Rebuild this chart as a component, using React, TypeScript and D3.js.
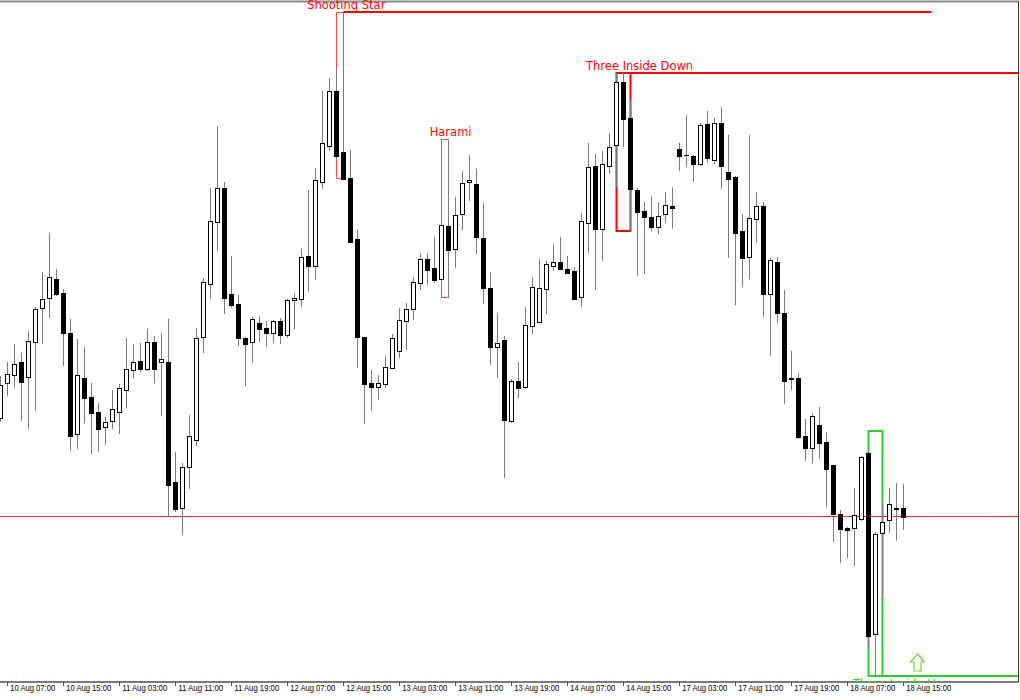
import React from 'react';
import * as d3 from 'd3';

// hourly OHLC, oldest first (first bar is cut by the left edge)
const opens = [
  1.3282, 1.3317, 1.3325, 1.3338, 1.3323, 1.3358, 1.3392, 1.3402, 1.3421, 1.3407,
  1.3367, 1.3266, 1.3322, 1.3303, 1.3288, 1.3273, 1.3279, 1.3288, 1.3310, 1.3330,
  1.3339, 1.3331, 1.3358, 1.3338, 1.3338, 1.3218, 1.3192, 1.3233, 1.3260, 1.3363,
  1.3416, 1.3478, 1.3512, 1.3406, 1.3396, 1.3362, 1.3358, 1.3377, 1.3372, 1.3367,
  1.3379, 1.3365, 1.3400, 1.3401, 1.3444, 1.3434, 1.3518, 1.3554, 1.3609, 1.3548,
  1.3522, 1.3461, 1.3363, 1.3317, 1.3313, 1.3316, 1.3332, 1.3349, 1.3379, 1.3391,
  1.3417, 1.3441, 1.3432, 1.3421, 1.3474, 1.3451, 1.3486, 1.3518, 1.3516, 1.3462,
  1.3412, 1.3353, 1.3360, 1.3279, 1.3319, 1.3313, 1.3374, 1.3378, 1.3411, 1.3434,
  1.3438, 1.3431, 1.3429, 1.3403, 1.3477, 1.3534, 1.3471, 1.3534, 1.3555, 1.3618,
  1.3582, 1.3510, 1.3489, 1.3483, 1.3473, 1.3486, 1.3494, 1.3551, 1.3545, 1.3544,
  1.3536, 1.3576, 1.3540, 1.3577, 1.3528, 1.3523, 1.3469, 1.3443, 1.3481, 1.3494,
  1.3406, 1.3438, 1.3387, 1.3322, 1.3322, 1.3264, 1.3252, 1.3275, 1.3258, 1.3235,
  1.3186, 1.3172, 1.3172, 1.3181, 1.3247, 1.3066, 1.3167, 1.3180, 1.3192, 1.3192,
];

const highs = [
  1.3324, 1.3338, 1.3356, 1.3347, 1.3369, 1.3393, 1.3428, 1.3467, 1.3431, 1.3411,
  1.3381, 1.3361, 1.3353, 1.3317, 1.3297, 1.3283, 1.3310, 1.3316, 1.3362, 1.3356,
  1.3357, 1.3371, 1.3364, 1.3367, 1.3381, 1.3248, 1.3237, 1.3285, 1.3372, 1.3422,
  1.3512, 1.3574, 1.3518, 1.3444, 1.3405, 1.3363, 1.3383, 1.3384, 1.3379, 1.3380,
  1.3382, 1.3401, 1.3407, 1.3451, 1.3510, 1.3532, 1.3609, 1.3622, 1.3632, 1.3688,
  1.3550, 1.3470, 1.3363, 1.3330, 1.3325, 1.3344, 1.3366, 1.3392, 1.3397, 1.3423,
  1.3447, 1.3447, 1.3463, 1.3482, 1.3561, 1.3503, 1.3529, 1.3545, 1.3531, 1.3497,
  1.3428, 1.3387, 1.3364, 1.3321, 1.3338, 1.3393, 1.3423, 1.3441, 1.3439, 1.3456,
  1.3463, 1.3444, 1.3433, 1.3487, 1.3557, 1.3546, 1.3549, 1.3567, 1.3627, 1.3627,
  1.3600, 1.3512, 1.3498, 1.3504, 1.3498, 1.3508, 1.3513, 1.3557, 1.3585, 1.3545,
  1.3577, 1.3589, 1.3582, 1.3593, 1.3565, 1.3524, 1.3486, 1.3565, 1.3508, 1.3498,
  1.3442, 1.3443, 1.3410, 1.3349, 1.3327, 1.3281, 1.3287, 1.3293, 1.3268, 1.3235,
  1.3190, 1.3173, 1.3212, 1.3244, 1.3248, 1.3168, 1.3197, 1.3212, 1.3217, 1.3216,
];

const lows = [
  1.3279, 1.3305, 1.3313, 1.3280, 1.3272, 1.3290, 1.3357, 1.3383, 1.3405, 1.3335,
  1.3250, 1.3252, 1.3278, 1.3247, 1.3249, 1.3256, 1.3272, 1.3267, 1.3293, 1.3323,
  1.3329, 1.3330, 1.3318, 1.3285, 1.3184, 1.3189, 1.3166, 1.3212, 1.3255, 1.3348,
  1.3402, 1.3450, 1.3387, 1.3393, 1.3355, 1.3315, 1.3338, 1.3359, 1.3354, 1.3358,
  1.3357, 1.3363, 1.3372, 1.3394, 1.3409, 1.3421, 1.3512, 1.3550, 1.3542, 1.3521,
  1.3458, 1.3333, 1.3277, 1.3290, 1.3301, 1.3313, 1.3332, 1.3343, 1.3351, 1.3381,
  1.3411, 1.3416, 1.3418, 1.3421, 1.3403, 1.3433, 1.3471, 1.3500, 1.3447, 1.3397,
  1.3336, 1.3323, 1.3223, 1.3278, 1.3303, 1.3312, 1.3367, 1.3378, 1.3387, 1.3431,
  1.3431, 1.3427, 1.3401, 1.3394, 1.3448, 1.3411, 1.3440, 1.3527, 1.3514, 1.3554,
  1.3469, 1.3425, 1.3427, 1.3470, 1.3467, 1.3478, 1.3472, 1.3530, 1.3534, 1.3519,
  1.3535, 1.3538, 1.3537, 1.3512, 1.3443, 1.3396, 1.3414, 1.3422, 1.3458, 1.3384,
  1.3345, 1.3378, 1.3297, 1.3311, 1.3262, 1.3240, 1.3238, 1.3242, 1.3194, 1.3159,
  1.3138, 1.3143, 1.3135, 1.3180, 1.3053, 1.3024, 1.3103, 1.3168, 1.3160, 1.3171,
];

const closes = [
  1.3315, 1.3326, 1.3336, 1.3318, 1.3359, 1.3391, 1.3401, 1.3423, 1.3406, 1.3367,
  1.3264, 1.3325, 1.3302, 1.3287, 1.3271, 1.3278, 1.3291, 1.3312, 1.3331, 1.3338,
  1.3331, 1.3358, 1.3331, 1.3341, 1.3215, 1.3191, 1.3233, 1.3264, 1.3362, 1.3418,
  1.3479, 1.3512, 1.3402, 1.3395, 1.3362, 1.3356, 1.3381, 1.3371, 1.3367, 1.3379,
  1.3365, 1.3400, 1.3402, 1.3443, 1.3434, 1.3520, 1.3557, 1.3609, 1.3544, 1.3521,
  1.3458, 1.3363, 1.3316, 1.3313, 1.3317, 1.3333, 1.3362, 1.3380, 1.3391, 1.3418,
  1.3441, 1.3430, 1.3420, 1.3475, 1.3450, 1.3485, 1.3517, 1.3520, 1.3463, 1.3412,
  1.3353, 1.3357, 1.3280, 1.3319, 1.3312, 1.3375, 1.3413, 1.3412, 1.3436, 1.3438,
  1.3431, 1.3427, 1.3401, 1.3479, 1.3533, 1.3471, 1.3536, 1.3553, 1.3618, 1.3581,
  1.3511, 1.3488, 1.3483, 1.3473, 1.3484, 1.3495, 1.3492, 1.3544, 1.3545, 1.3536,
  1.3575, 1.3542, 1.3577, 1.3534, 1.3521, 1.3467, 1.3442, 1.3482, 1.3494, 1.3406,
  1.3440, 1.3387, 1.3319, 1.3321, 1.3263, 1.3252, 1.3284, 1.3257, 1.3231, 1.3186,
  1.3171, 1.3170, 1.3185, 1.3243, 1.3064, 1.3166, 1.3178, 1.3196, 1.3191, 1.3183,
];

// time axis: a label every 8 bars, starting at bar 1
const timeLabels = [
  '10 Aug 07:00', '10 Aug 15:00', '11 Aug 03:00', '11 Aug 11:00', '11 Aug 19:00',
  '12 Aug 07:00', '12 Aug 15:00', '13 Aug 03:00', '13 Aug 11:00', '13 Aug 19:00',
  '14 Aug 07:00', '14 Aug 15:00', '17 Aug 03:00', '17 Aug 11:00', '17 Aug 19:00',
  '18 Aug 07:00', '18 Aug 15:00',
];

const supportLevel = 1.3184;

const patternNames = ['Shooting Star', 'Harami', 'Three Inside Down', 'Three Inside Up'];
const patternFrom = [48, 63, 88, 124];
const patternTo = [49, 64, 90, 126];
const patternHigh = [1.3688, 1.3561, 1.3627, 1.3269];
const patternLow = [1.3522, 1.3403, 1.3469, 1.3024];
const patternBullish = [false, false, false, true];
// bar index the label is centred on, and where the level line ends (-1 none, 0 chart edge)
const patternLabelAt = [49.4, 64.3, 91.3, 128.2];
const patternLineTo = [133, -1, 0, 0];

const arrowBar = 131;
const arrowPrice = 1.3046;

const W = 1020;
const H = 700;
const plot = { left: 0, right: 1019, top: 1, bottom: 681 };

const RED = '#ff0000';
const GREEN = '#33cc33';

export default function App() {
  const n = opens.length;
  const x = d3.scaleLinear().domain([0, n - 1]).range([0.5, 0.5 + 7 * (n - 1)]);
  const y = d3.scaleLinear().domain([1.3019, 1.3699]).range([plot.bottom, plot.top]);
  const py = (v: number) => Math.round(y(v));

  const candles = opens.map((o, i) => {
    const c = closes[i];
    const cx = x(i);
    const yo = py(o);
    const yc = py(c);
    const top = Math.min(yo, yc);
    const bot = Math.max(yo, yc);
    let body;
    if (top === bot) {
      body = <line x1={cx - 2.5} x2={cx + 2.5} y1={top + 0.5} y2={top + 0.5} stroke="#000" />;
    } else if (c > o) {
      body = (
        <rect x={cx - 2} y={top + 0.5} width={4} height={bot - top} fill="#fff" stroke="#000" strokeWidth={1} />
      );
    } else {
      body = <rect x={cx - 2.5} y={top} width={5} height={bot - top + 1} fill="#000" />;
    }
    return (
      <g key={i}>
        <line x1={cx} x2={cx} y1={py(highs[i])} y2={py(lows[i]) + 1} stroke="#7a7a7a" />
        {body}
      </g>
    );
  });

  const patterns = patternNames.map((name, k) => {
    const color = patternBullish[k] ? GREEN : RED;
    const thick = k >= 2 ? 2 : 1;
    const off = thick === 1 ? 0.5 : 0;
    const x0 = x(patternFrom[k]);
    const x1 = x(patternTo[k]);
    const yt = py(patternHigh[k]);
    const yb = py(patternLow[k]);
    const level = patternBullish[k] ? yb : yt;
    let lineEnd = -1;
    if (patternLineTo[k] > 0) lineEnd = x(patternLineTo[k]);
    if (patternLineTo[k] === 0) lineEnd = plot.right;
    return (
      <g key={name}>
        <rect
          x={x0}
          y={yt + off}
          width={x1 - x0}
          height={yb - yt}
          fill="none"
          stroke={thick === 1 ? '#ff4a4a' : color}
          strokeWidth={thick}
        />
        {lineEnd > 0 && (
          <line x1={x1} x2={lineEnd} y1={level} y2={level} stroke={color} strokeWidth={2} />
        )}
      </g>
    );
  });

  const labels = patternNames.map((name, k) => {
    const bull = patternBullish[k];
    const ly = bull ? py(patternLow[k]) + 11.5 : py(patternHigh[k]) - 3;
    return (
      <text
        key={name}
        x={x(patternLabelAt[k])}
        y={ly}
        textAnchor="middle"
        fill={bull ? GREEN : RED}
        fontSize={11.5}
        fontFamily="DejaVu Sans, sans-serif"
        clipPath="url(#plotClip)"
      >
        {name}
      </text>
    );
  });

  const ax = x(arrowBar);
  const ay = py(arrowPrice);
  const arrowPath = `M${ax},${ay} L${ax + 7},${ay + 8} L${ax + 3.5},${ay + 8} L${ax + 3.5},${ay + 17} L${ax - 3.5},${ay + 17} L${ax - 3.5},${ay + 8} L${ax - 7},${ay + 8} Z`;

  const sy = py(supportLevel) + 0.5;

  return (
    <svg
      width={W}
      height={H}
      style={{ position: 'absolute', left: 0, top: 0, display: 'block', background: '#fff' }}
    >
      <defs>
        <clipPath id="plotClip">
          <rect x={0} y={-20} width={plot.right} height={plot.bottom + 22} />
        </clipPath>
      </defs>
      <rect x={0} y={0} width={W} height={H} fill="#fff" />

      {patterns}
      <line x1={plot.left} x2={plot.right} y1={sy} y2={sy} stroke="#e32a2a" />
      {candles}

      <path d={arrowPath} fill="#fff" stroke="#6fd83a" strokeWidth={1.2} />

      {/* frame */}
      <line x1={0} x2={plot.right} y1={1.5} y2={1.5} stroke="#8a8a8a" strokeWidth={2} />
      <line x1={plot.right - 0.5} x2={plot.right - 0.5} y1={1} y2={plot.bottom + 1} stroke="#333" />
      <line x1={0} x2={plot.right} y1={plot.bottom + 1} y2={plot.bottom + 1} stroke="#7a7a7a" strokeWidth={2} />

      {labels}

      {timeLabels.map((t, k) => {
        const tx = x(1 + 8 * k);
        return (
          <g key={t}>
            <line x1={tx} x2={tx} y1={plot.bottom + 1} y2={plot.bottom + 5} stroke="#555" />
            <text
              x={tx + 2.7}
              y={691}
              fontSize={9}
              fontFamily="Liberation Sans, Arial, sans-serif"
              textLength={45}
              lengthAdjust="spacingAndGlyphs"
              fill="#000"
            >
              {t}
            </text>
          </g>
        );
      })}
    </svg>
  );
}
